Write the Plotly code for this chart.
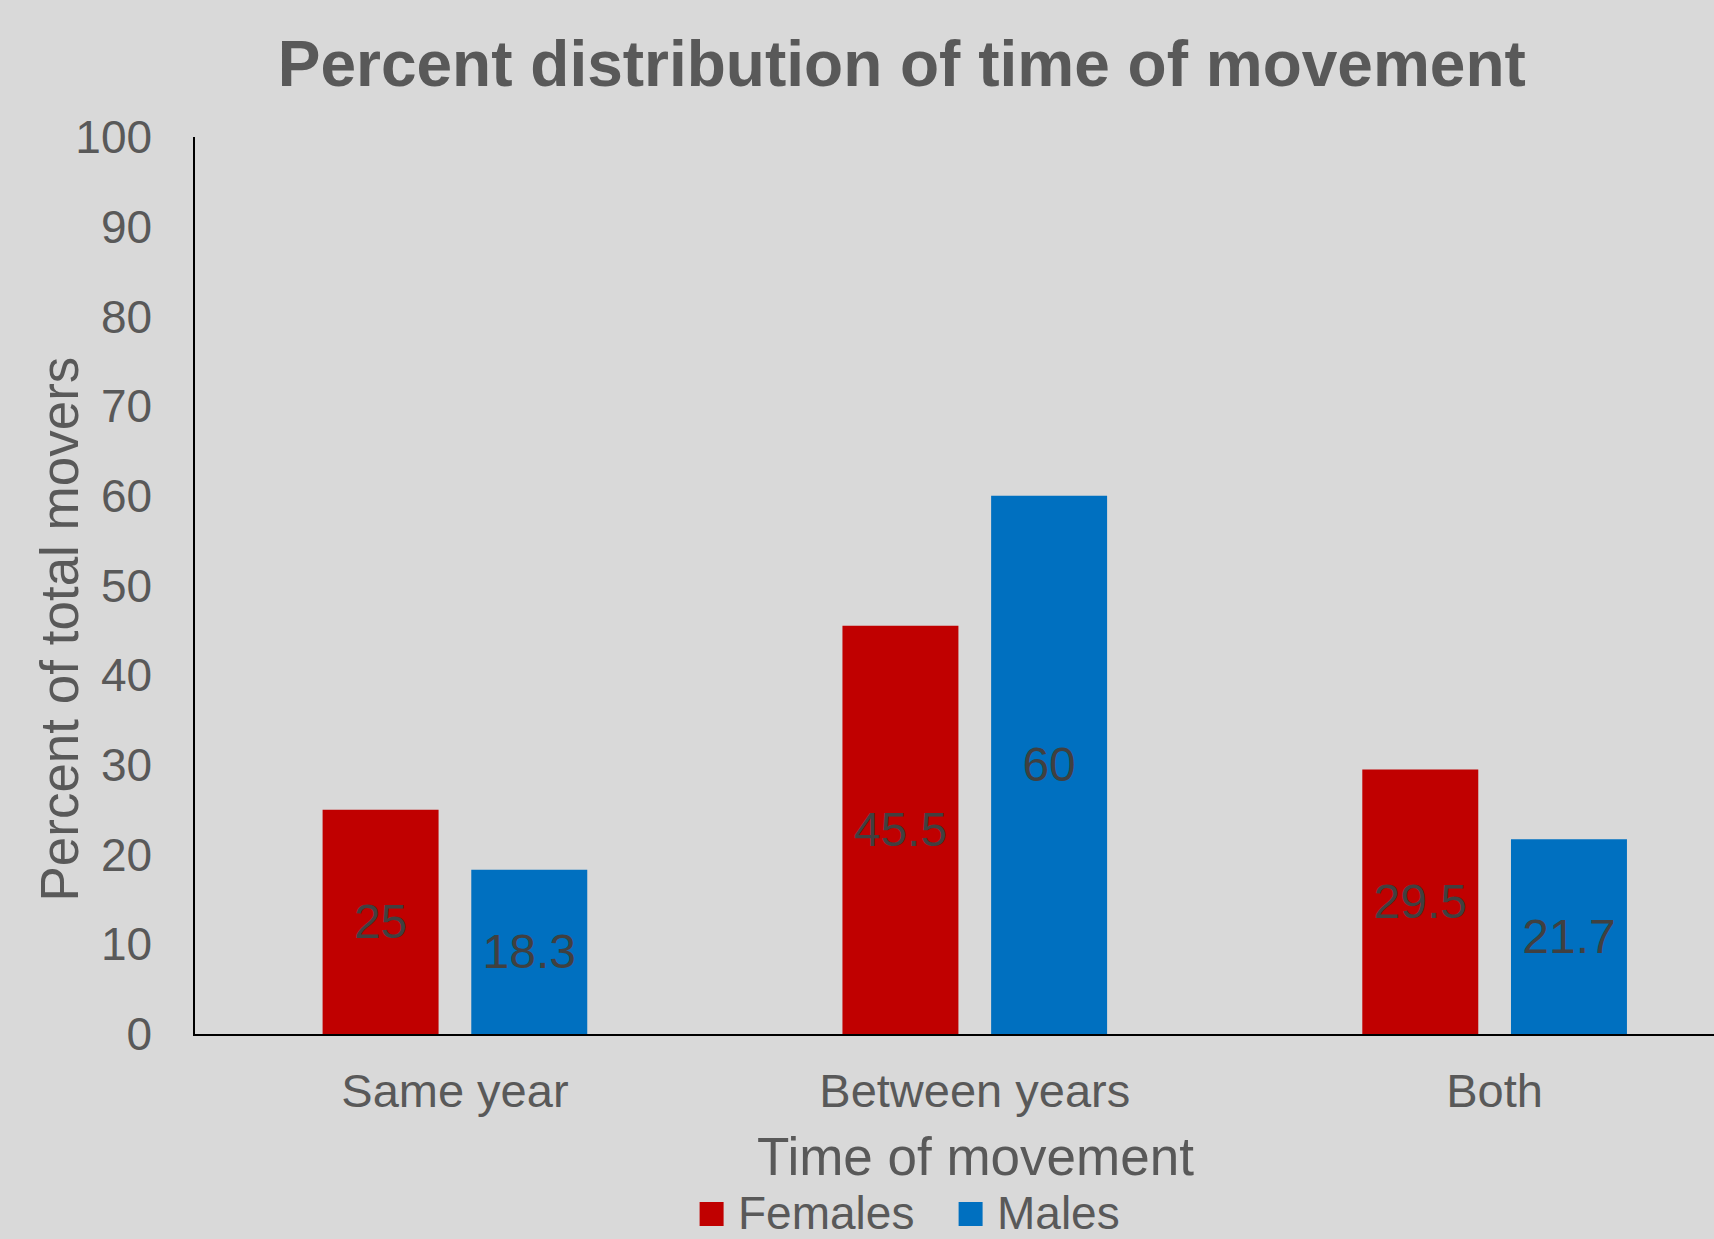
import plotly.graph_objects as go

# Chart data
categories = ["Same year", "Between years", "Both"]
females = [25, 45.5, 29.5]
males = [18.3, 60, 21.7]
y_ticks = list(range(0, 101, 10))

W, H = 1714, 1239
ML, MR, MT, MB = 195, 0, 137, 205
FONT = "Liberation Sans, Arial, sans-serif"
GREY = "#595959"
BG = "#D9D9D9"
RED = "#C00000"
BLUE = "#0070C0"

plot_w = W - ML - MR
plot_h = H - MT - MB


def px_x(x):
    return (x - ML) / plot_w


def px_y(y):
    return (H - MB - y) / plot_h


fig = go.Figure()
for name, vals, col in [("Females", females, RED), ("Males", males, BLUE)]:
    fig.add_trace(go.Bar(
        x=categories, y=vals, name=name,
        marker=dict(color=col, line=dict(width=0)),
        texttemplate="%{y}", textposition="inside",
        insidetextanchor="middle", textangle=0, constraintext="none",
        textfont=dict(family=FONT, size=48, color="#404040"),
        showlegend=False,
    ))

fig.update_layout(
    width=W, height=H,
    margin=dict(l=ML, r=MR, t=MT, b=MB, autoexpand=False),
    paper_bgcolor=BG, plot_bgcolor=BG,
    barmode="group", bargap=0.428, bargroupgap=0.22,
    font=dict(family=FONT, color=GREY),
    title=dict(
        text="<b>Percent distribution of time of movement</b>",
        font=dict(family=FONT, size=64, color=GREY),
        x=901.8 / W, xanchor="center", xref="container",
        y=1 - 63.4 / H, yanchor="middle", yref="container",
    ),
    xaxis=dict(
        range=[-0.5, 2.422], showgrid=False, zeroline=False,
        showline=True, linecolor="#000000", linewidth=2,
        ticks="", ticklabelstandoff=15,
        tickfont=dict(family=FONT, size=47, color=GREY),
    ),
    yaxis=dict(
        range=[0, 100], tickvals=y_ticks, showgrid=False, zeroline=False,
        showline=True, linecolor="#000000", linewidth=1.5,
        ticks="", ticklabelstandoff=32,
        tickfont=dict(family=FONT, size=46, color=GREY),
    ),
)

# Axis titles
fig.add_annotation(
    text="Time of movement", xref="paper", yref="paper",
    x=px_x(975), y=px_y(1156.5), xanchor="center", yanchor="middle",
    showarrow=False, font=dict(family=FONT, size=53, color=GREY),
)
fig.add_annotation(
    text="Percent of total movers", xref="paper", yref="paper",
    x=px_x(60), y=px_y(629.6), xanchor="center", yanchor="middle",
    textangle=-90, showarrow=False,
    font=dict(family=FONT, size=53, color=GREY),
)

# Legend: coloured squares with series names
legend_items = [("Females", RED, 699.6, 735.7), ("Males", BLUE, 958.6, 994.7)]
ly = 1213
for name, col, sx, tx in legend_items:
    fig.add_shape(
        type="rect", xref="paper", yref="paper",
        x0=px_x(sx), x1=px_x(sx + 24), y0=px_y(ly - 11), y1=px_y(ly + 13),
        fillcolor=col, line=dict(width=0),
    )
    fig.add_annotation(
        text=name, xref="paper", yref="paper",
        x=px_x(tx), y=px_y(ly), xanchor="left", yanchor="middle",
        showarrow=False, font=dict(family=FONT, size=46, color=GREY),
    )

fig.write_html("out.html")
